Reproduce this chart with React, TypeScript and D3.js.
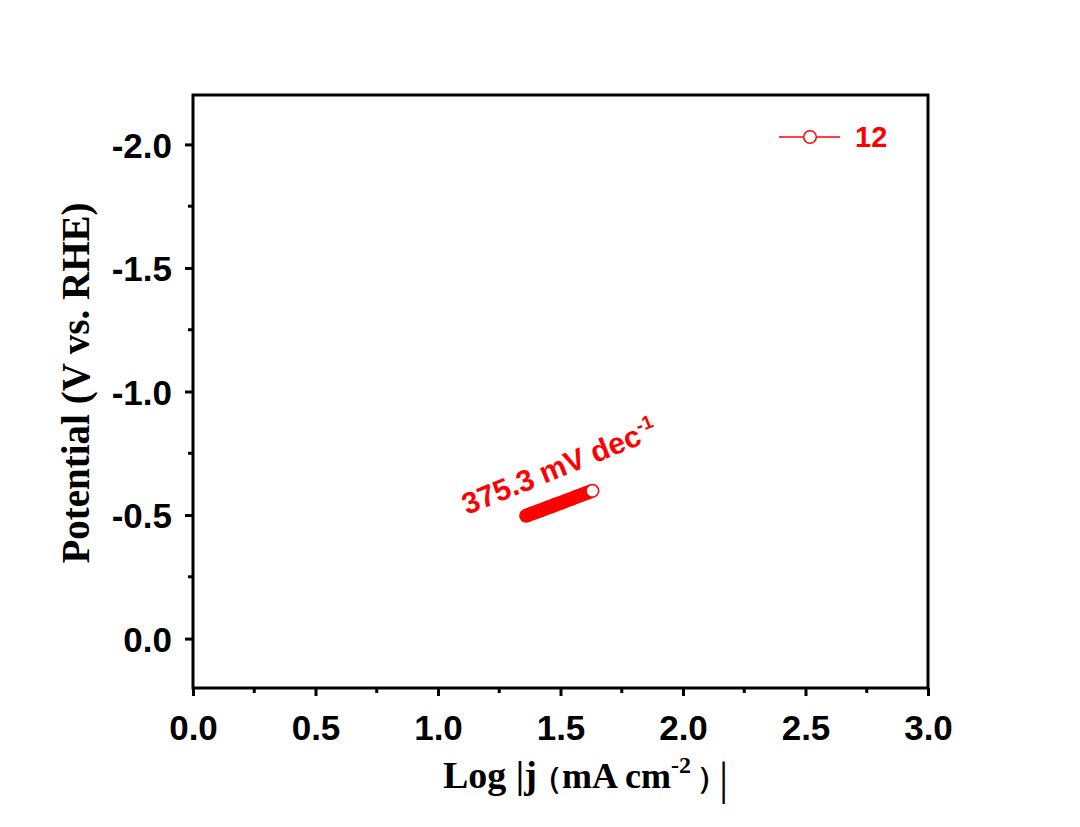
import { useRef, useEffect } from 'react'
import * as d3 from 'd3'

// Tafel data for sample "12"
const logJ = [
  1.36, 1.37, 1.38, 1.39, 1.4, 1.41, 1.42, 1.43, 1.44, 1.45, 1.46, 1.47, 1.48, 1.49,
  1.5, 1.51, 1.52, 1.53, 1.54, 1.55, 1.56, 1.57, 1.58, 1.59, 1.6, 1.61, 1.62, 1.63,
]
const potential = [
  -0.497, -0.501, -0.505, -0.508, -0.512, -0.516, -0.519, -0.523, -0.527, -0.531,
  -0.534, -0.538, -0.542, -0.546, -0.549, -0.553, -0.557, -0.561, -0.564, -0.568,
  -0.572, -0.576, -0.579, -0.583, -0.587, -0.59, -0.594, -0.598,
]
const seriesName = '12'
const slopeLabel = '375.3 mV dec'
const xTicks = [0, 0.5, 1, 1.5, 2, 2.5, 3]
const yTicks = [0, -0.5, -1, -1.5, -2]

const fmt = (d: number) => d.toFixed(1) // plain hyphen minus, like the original

const App = () => {
  const ref = useRef<SVGSVGElement>(null)

  useEffect(() => {
    if (!ref.current) return
    const width = 1080
    const height = 827
    const left = 193
    const right = 928
    const top = 95
    const bottom = 688

    const svg = d3.select(ref.current)
    svg.selectAll('*').remove()
    svg.attr('width', width).attr('height', height)

    const x = d3.scaleLinear().domain([0, 3]).range([left, right])
    const y = d3.scaleLinear().domain([-2.2, 0.2]).range([top, bottom])

    const red = '#ff0000'
    const tickFont = 'Arial, "Liberation Sans", sans-serif'
    const labelFont = '"Times New Roman", "Liberation Serif", serif'

    // axes
    const xAxis = svg
      .append('g')
      .attr('transform', `translate(0,${bottom})`)
      .call(d3.axisBottom(x).tickValues(xTicks).tickSize(8).tickFormat((d) => fmt(+d)))
    const yAxis = svg
      .append('g')
      .attr('transform', `translate(${left},0)`)
      .call(d3.axisLeft(y).tickValues(yTicks).tickSize(8).tickFormat((d) => fmt(+d)))

    for (const ax of [xAxis, yAxis]) {
      ax.select('.domain').remove()
      ax.attr('font-size', null).attr('font-family', null)
      ax.selectAll('line').attr('stroke', '#000').attr('stroke-width', 3)
      ax.selectAll('text')
        .style('font-family', tickFont)
        .style('font-weight', 'bold')
        .style('font-size', '35px')
        .attr('fill', '#000')
    }
    xAxis.selectAll('text').attr('y', 52).attr('dy', 0)
    yAxis.selectAll('text').attr('x', -21).attr('dy', '0.36em')

    // minor ticks
    const xMinor = d3.range(0.25, 3, 0.5)
    svg.append('g')
      .selectAll('line')
      .data(xMinor)
      .join('line')
      .attr('x1', (d) => x(d))
      .attr('x2', (d) => x(d))
      .attr('y1', bottom)
      .attr('y2', bottom + 5)
      .attr('stroke', '#000')
      .attr('stroke-width', 3)
    const yMinor = d3.range(-1.75, 0, 0.5)
    svg.append('g')
      .selectAll('line')
      .data(yMinor)
      .join('line')
      .attr('y1', (d) => y(d))
      .attr('y2', (d) => y(d))
      .attr('x1', left)
      .attr('x2', left - 5)
      .attr('stroke', '#000')
      .attr('stroke-width', 3)

    // frame
    svg.append('rect')
      .attr('x', left)
      .attr('y', top)
      .attr('width', right - left)
      .attr('height', bottom - top)
      .attr('fill', 'none')
      .attr('stroke', '#000')
      .attr('stroke-width', 3)

    // data
    const pts = logJ.map((v, i) => [v, potential[i]] as [number, number])
    svg.append('path')
      .datum(pts)
      .attr('d', d3.line().x((d) => x(d[0])).y((d) => y(d[1])))
      .attr('fill', 'none')
      .attr('stroke', red)
      .attr('stroke-width', 1.5)
    svg.append('g')
      .selectAll('circle')
      .data(pts)
      .join('circle')
      .attr('cx', (d) => x(d[0]))
      .attr('cy', (d) => y(d[1]))
      .attr('r', 6.3)
      .attr('fill', (_, i) => (i === pts.length - 1 ? '#fff' : red))
      .attr('stroke', red)
      .attr('stroke-width', 1.5)

    // slope annotation
    const ann = svg.append('text')
      .attr('transform', 'translate(467,515) rotate(-22)')
      .style('font-family', tickFont)
      .style('font-weight', 'bold')
      .style('font-size', '30px')
      .attr('fill', red)
    ann.append('tspan').text(slopeLabel)
    ann.append('tspan').attr('dy', -12).style('font-size', '19px').text('-1')

    // legend
    const lg = svg.append('g')
    lg.append('line')
      .attr('x1', 779)
      .attr('x2', 840)
      .attr('y1', 137)
      .attr('y2', 137)
      .attr('stroke', red)
      .attr('stroke-width', 1.5)
    lg.append('circle')
      .attr('cx', 810)
      .attr('cy', 137)
      .attr('r', 6.3)
      .attr('fill', '#fff')
      .attr('stroke', red)
      .attr('stroke-width', 1.5)
    lg.append('text')
      .attr('x', 855)
      .attr('y', 147)
      .style('font-family', tickFont)
      .style('font-weight', 'bold')
      .style('font-size', '29px')
      .attr('fill', red)
      .text(seriesName)

    // axis titles
    const xt = svg.append('text')
      .attr('y', 788)
      .style('font-family', labelFont)
      .style('font-weight', 'bold')
      .style('font-size', '38px')
      .attr('fill', '#000')
    xt.append('tspan').attr('x', 443).text('Log |j')
    xt.append('tspan').attr('x', 532).style('font-size', '30px').text('（')
    xt.append('tspan').attr('x', 562).style('font-size', '36px').text('mA cm')
    xt.append('tspan').attr('x', 671).attr('dy', -15).style('font-size', '24px').text('-2')
    xt.append('tspan').attr('x', 697).attr('dy', 15).style('font-size', '30px').text('）')
    xt.append('tspan').attr('x', 719).attr('dy', 6).style('font-size', '46px').style('font-weight', 'normal').text('|')

    svg.append('text')
      .attr('transform', `translate(89,383) rotate(-90)`)
      .attr('text-anchor', 'middle')
      .style('font-family', labelFont)
      .style('font-weight', 'bold')
      .style('font-size', '39px')
      .attr('fill', '#000')
      .text('Potential (V vs. RHE)')
  }, [])

  return (
    <div style={{ margin: -8 }}>
      <svg ref={ref} style={{ display: 'block' }} />
    </div>
  )
}

export default App
